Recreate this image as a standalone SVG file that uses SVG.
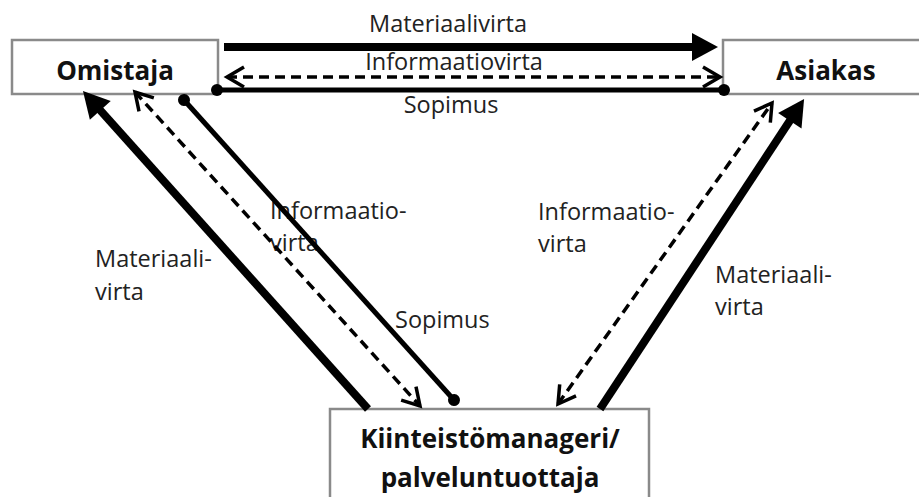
<svg xmlns="http://www.w3.org/2000/svg" width="919" height="497" viewBox="0 0 919 497">
<style>
.box{fill:#fff;stroke:#8a8a8a;stroke-width:2.5}
.node{font-family:"Open Sans","Liberation Sans",sans-serif;font-weight:bold;font-size:26px;fill:#111;text-anchor:middle}
.lbl{font-family:"Open Sans","Liberation Sans",sans-serif;font-size:23.5px;fill:#222}
.mid{text-anchor:middle}
.mat{stroke:#000;stroke-width:8;fill:none;marker-end:url(#tri)}
.info{stroke:#000;stroke-width:3.5;stroke-dasharray:10 6;fill:none;marker-start:url(#chev);marker-end:url(#chev)}
.sop{stroke:#000;stroke-width:5;fill:none;marker-start:url(#dot);marker-end:url(#dot)}
</style>
<defs>
<marker id="tri" markerUnits="userSpaceOnUse" markerWidth="28" markerHeight="30" refX="12" refY="14" orient="auto" overflow="visible"><path d="M0,0 L26,14 L0,28 Z" fill="#000"/></marker>
<marker id="chev" markerUnits="userSpaceOnUse" markerWidth="22" markerHeight="24" refX="18" refY="10" orient="auto-start-reverse" overflow="visible"><path d="M1,0 L18,10 L1,20" fill="none" stroke="#000" stroke-width="3.5"/></marker>
<marker id="dot" markerUnits="userSpaceOnUse" markerWidth="14" markerHeight="14" refX="7" refY="7" orient="auto" overflow="visible"><circle cx="7" cy="7" r="6" fill="#000"/></marker>
</defs>
<rect width="919" height="497" fill="#fff"/>
<g id="omistaja"><rect class="box" x="12" y="40" width="206" height="54"/><text class="node" x="115" y="80">Omistaja</text></g>
<g id="asiakas"><rect class="box" x="723" y="40" width="206" height="54"/><text class="node" x="826" y="80">Asiakas</text></g>
<g id="kiinteistomanageri"><rect class="box" x="330" y="409" width="319" height="100"/><text class="node" x="490" y="448">Kiinteistömanageri/</text><text class="node" x="490" y="487">palveluntuottaja</text></g>
<g id="labels">
<text class="lbl mid" x="448" y="32">Materiaalivirta</text>
<text class="lbl mid" x="454" y="70">Informaatiovirta</text>
<text class="lbl mid" x="451" y="113">Sopimus</text>
<text class="lbl" x="95" y="267">Materiaali-</text><text class="lbl" x="95" y="300">virta</text>
<text class="lbl" x="270" y="219">Informaatio-</text><text class="lbl" x="270" y="251">virta</text>
<text class="lbl" x="395" y="328">Sopimus</text>
<text class="lbl" x="538" y="220">Informaatio-</text><text class="lbl" x="538" y="252">virta</text>
<text class="lbl" x="715" y="283">Materiaali-</text><text class="lbl" x="715" y="315">virta</text>
</g>
<g id="connectors">
<line class="mat" x1="224" y1="47" x2="704" y2="47"/>
<line class="info" x1="227" y1="77" x2="720" y2="77"/>
<line class="sop" x1="217" y1="90" x2="724" y2="90"/>
<line class="mat" x1="368" y1="409" x2="92.3" y2="101.4"/>
<line class="info" x1="135" y1="92" x2="420" y2="406"/>
<line class="sop" x1="184" y1="100" x2="454" y2="400"/>
<line class="info" x1="558" y1="404" x2="772" y2="103"/>
<line class="mat" x1="600" y1="409" x2="796.4" y2="110.7"/>
</g>
</svg>
